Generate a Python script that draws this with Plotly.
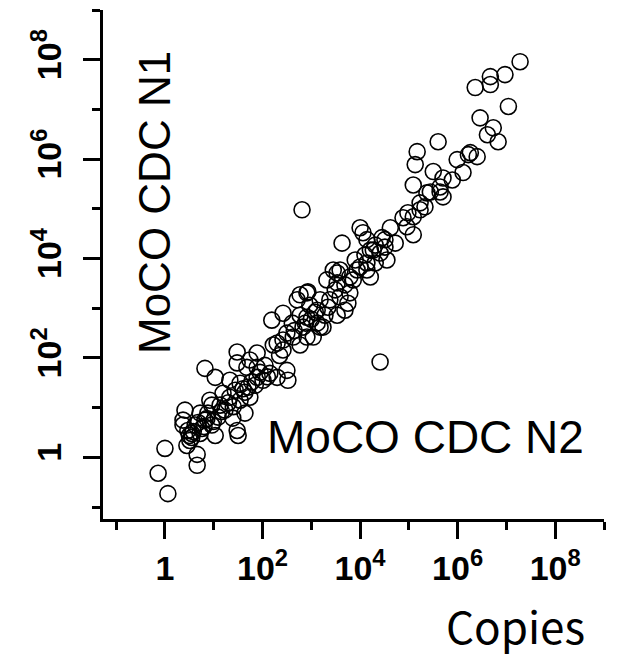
import plotly.graph_objects as go

# log10(copies) for MoCO CDC N2 (x) and MoCO CDC N1 (y)
log_n2 = [
    0.06, -0.14, 0.00, 0.66, 0.66, 0.41, 0.37, 0.45, 0.55, 0.72, 1.03, 0.82, 1.03, 0.92, 0.72, 0.88,
    1.09, 0.96, 0.55, 0.47, 0.37, 1.33, 1.33, 1.39, 1.48, 1.50, 1.64, 1.48, 1.48, 1.68, 1.89, 1.89,
    2.01, 1.70, 1.19, 1.54, 1.74, 2.15, 2.30, 2.30, 2.42, 1.89,
    0.62, 0.82, 1.13, 0.76, 0.51, 0.96, 1.23, 1.54, 1.64, 1.85, 1.95, 1.74, 2.05, 1.44, 2.50, 2.52,
    3.63, 2.81, 2.93, 2.71, 2.77, 3.08, 2.42, 2.19, 2.61, 2.83, 3.12, 3.24, 3.04, 2.63, 2.22, 2.42,
    2.77, 2.50, 2.91, 4.41, 3.38, 3.59, 3.75, 3.69, 3.53, 3.34, 3.79, 3.32, 3.53, 3.59, 3.94, 4.00,
    4.14, 4.27, 3.18, 2.91, 3.12, 2.91, 3.53, 3.79, 3.45,
    2.97, 3.18, 2.77, 3.28, 3.49, 3.69, 3.90, 4.10, 4.31, 4.51, 4.21,
    4.00, 4.06, 4.14, 4.45, 4.51, 4.72, 4.41, 4.55, 4.31, 4.14, 3.86, 4.21, 4.62, 4.88, 4.98, 5.09,
    4.96, 5.09, 5.23, 5.33, 5.09, 5.44, 5.70, 5.64, 5.89, 5.70, 5.50, 6.11, 5.13, 5.99, 6.26, 5.17,
    5.60, 5.37, 5.23, 5.64, 6.22, 6.40,
    7.28, 6.97, 6.67, 6.67, 6.36, 7.04, 6.46, 6.73, 6.61, 6.83,
    0.58, 0.68, 0.80, 0.50, 0.86, 0.99, 1.16, 1.30, 1.40, 1.60, 1.78, 2.10, 2.35, 2.65, 2.88, 3.00,
]
log_n1 = [
    -0.73, -0.32, 0.18, -0.16, 0.06, 0.95, 0.65, 0.24, 0.48, 0.48, 0.44, 1.79, 1.61, 1.15, 0.89, 0.89,
    0.81, 1.05, 0.40, 0.54, 0.75, 1.55, 1.21, 0.79, 0.54, 0.44, 0.89, 2.12, 1.90, 1.81, 2.10, 1.61,
    1.55, 1.41, 1.29, 1.49, 1.21, 1.69, 1.61, 2.30, 2.36, 1.81,
    0.65, 0.75, 1.05, 0.58, 0.34, 0.65, 0.95, 1.15, 1.31, 1.45, 1.71, 1.96, 1.85, 1.35, 1.75, 1.55,
    4.31, 4.98, 3.33, 3.17, 3.27, 2.92, 2.90, 2.76, 2.70, 2.62, 2.70, 2.62, 2.42, 2.42, 2.26, 2.16,
    2.26, 2.50, 2.82, 1.92, 3.17, 3.23, 3.10, 2.96, 2.86, 3.02, 3.31, 3.57, 3.71, 3.77, 3.77, 3.83,
    3.91, 4.17, 2.62, 2.42, 2.96, 3.31, 3.51, 3.63, 3.77,
    3.06, 3.17, 2.86, 2.86, 3.37, 3.47, 3.97, 4.07, 4.27, 4.38, 4.17,
    4.62, 4.52, 4.38, 4.42, 4.23, 4.31, 4.11, 3.97, 3.91, 3.77, 3.57, 3.63, 4.62, 4.82, 4.92, 4.84,
    4.64, 4.48, 4.98, 5.04, 5.48, 5.34, 5.24, 5.34, 5.58, 5.62, 5.75, 5.73, 5.89, 5.99, 6.13, 6.15,
    6.35, 5.32, 5.12, 5.44, 6.09, 6.05,
    7.96, 7.70, 7.66, 7.50, 7.44, 7.06, 6.83, 6.63, 6.49, 6.35,
    0.52, 0.70, 0.62, 0.44, 0.78, 0.72, 0.92, 1.10, 1.02, 1.38, 1.52, 1.62, 2.05, 2.55, 2.70, 2.78,
]

major_ticks = [1, 1e2, 1e4, 1e6, 1e8]
major_labels = ["1", "10<sup>2</sup>", "10<sup>4</sup>", "10<sup>6</sup>", "10<sup>8</sup>"]
minor_ticks = [1e-1, 1e1, 1e3, 1e5, 1e7, 1e9]

x_vals = [10 ** v for v in log_n2]
y_vals = [10 ** v for v in log_n1]

FONT = "Liberation Sans"

fig = go.Figure()
fig.add_trace(go.Scatter(
    x=x_vals, y=y_vals, mode="markers",
    marker=dict(symbol="circle-open", size=16, color="black", line=dict(width=1.6, color="black")),
    showlegend=False, hoverinfo="skip",
))

axis_common = dict(
    type="log", showgrid=False, zeroline=False, showline=True, linewidth=3, linecolor="black",
    ticks="outside", ticklen=17, tickwidth=3, tickcolor="black",
    tickmode="array", tickvals=major_ticks, ticktext=major_labels,
    tickfont=dict(family=FONT, size=34, color="black", weight="bold"),
    minor=dict(tickmode="array", tickvals=minor_ticks, ticks="outside", ticklen=8, tickwidth=3, tickcolor="black", showgrid=False),
    mirror=False,
)

fig.update_layout(
    width=626, height=657,
    margin=dict(l=103, r=22, t=10, b=138),
    paper_bgcolor="white", plot_bgcolor="white",
    xaxis=dict(range=[-1.27, 9.0], ticklabelstandoff=0, **axis_common),
    yaxis=dict(range=[-1.24, 9.0], tickangle=-90, ticklabelstandoff=8, **axis_common),
    annotations=[
        dict(text="MoCO CDC N1", xref="paper", yref="paper", x=0.104, y=0.621, textangle=-90,
             xanchor="center", yanchor="middle",
             showarrow=False, font=dict(family=FONT, size=44, color="black")),
        dict(text="MoCO CDC N2", xref="paper", yref="paper", x=0.643, y=0.161,
             xanchor="center", yanchor="middle",
             showarrow=False, font=dict(family=FONT, size=46, color="black")),
        dict(text="Copies", xref="paper", yref="paper", x=0.824, y=-0.208,
             xanchor="center", yanchor="middle",
             showarrow=False, font=dict(family="Noto Sans CJK JP", size=44, color="black")),
    ],
)

fig.write_html("out.html")
